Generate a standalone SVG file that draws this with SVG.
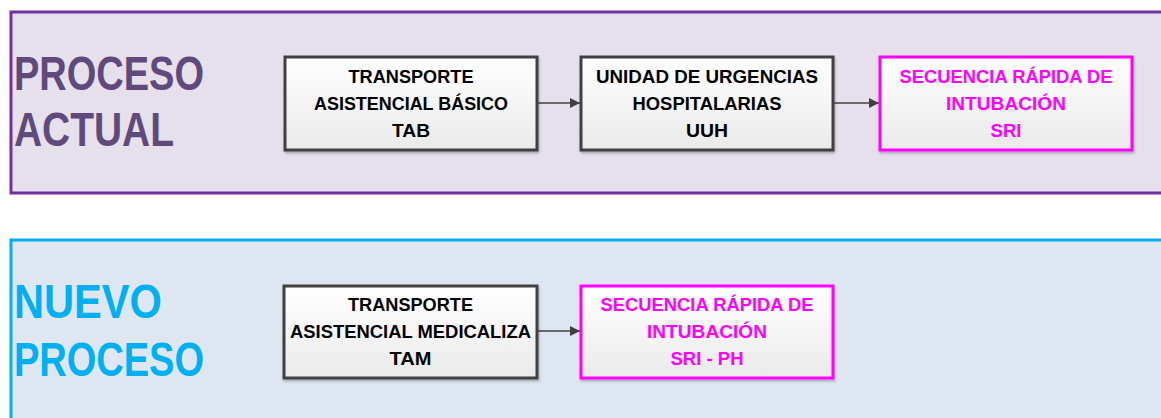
<svg xmlns="http://www.w3.org/2000/svg" width="1161" height="418" viewBox="0 0 1161 418">
<defs>
<linearGradient id="boxg" x1="0" y1="0" x2="0" y2="1">
<stop offset="0" stop-color="#FFFFFF"/>
<stop offset="1" stop-color="#EAEAEA"/>
</linearGradient>
<filter id="sh" x="-5%" y="-5%" width="110%" height="115%">
<feDropShadow dx="1" dy="2" stdDeviation="1.2" flood-color="#000" flood-opacity="0.25"/>
</filter>
<marker id="arr" viewBox="0 0 10 10" refX="10" refY="5" markerWidth="10" markerHeight="10" markerUnits="userSpaceOnUse" orient="auto">
<path d="M0,0 L10,5 L0,10 z" fill="#404040"/>
</marker>
</defs>
<style>
.title{font-family:"Liberation Sans",Arial,sans-serif;font-weight:bold;font-size:48px}
.t1{fill:#604A7B}
.t2{fill:#00B0F0}
.box{fill:url(#boxg);stroke:#404040;stroke-width:3;filter:url(#sh)}
.mbox{fill:url(#boxg);stroke:#FF00FF;stroke-width:3;filter:url(#sh)}
.lbl{font-family:"Liberation Sans",Arial,sans-serif;font-weight:bold;font-size:18.5px;text-anchor:middle;fill:#000}
.mlbl{fill:#FF00FF}
.conn{stroke:#404040;stroke-width:1.5;fill:none;marker-end:url(#arr)}
</style>
<rect width="1161" height="418" fill="#FFFFFF"/>
<g id="panel-actual">
<rect x="11" y="12" width="1160" height="181" fill="#E5E0EC" stroke="#7030A0" stroke-width="3"/>
<text class="title t1" x="14" y="90" textLength="190" lengthAdjust="spacingAndGlyphs">PROCESO</text>
<text class="title t1" x="14" y="146" textLength="160" lengthAdjust="spacingAndGlyphs">ACTUAL</text>
</g>
<g id="panel-nuevo">
<rect x="11" y="240" width="1160" height="190" fill="#DEE7F1" stroke="#00B0F0" stroke-width="3"/>
<text class="title t2" x="14" y="318" textLength="148" lengthAdjust="spacingAndGlyphs">NUEVO</text>
<text class="title t2" x="14" y="376" textLength="190" lengthAdjust="spacingAndGlyphs">PROCESO</text>
</g>
<g id="connectors">
<line class="conn" x1="537" y1="103" x2="580" y2="103"/>
<line class="conn" x1="833" y1="103" x2="879" y2="103"/>
<line class="conn" x1="537" y1="331" x2="580" y2="331"/>
</g>
<g id="node-tab">
<rect class="box" x="285" y="57" width="252" height="93"/>
<text class="lbl" x="411" y="83" textLength="125" lengthAdjust="spacingAndGlyphs">TRANSPORTE</text>
<text class="lbl" x="411" y="110" textLength="194" lengthAdjust="spacingAndGlyphs">ASISTENCIAL BÁSICO</text>
<text class="lbl" x="411" y="137" textLength="38" lengthAdjust="spacingAndGlyphs">TAB</text>
</g>
<g id="node-uuh">
<rect class="box" x="581" y="57" width="252" height="93"/>
<text class="lbl" x="707" y="83" textLength="222" lengthAdjust="spacingAndGlyphs">UNIDAD DE URGENCIAS</text>
<text class="lbl" x="707" y="110" textLength="149" lengthAdjust="spacingAndGlyphs">HOSPITALARIAS</text>
<text class="lbl" x="707" y="137" textLength="42" lengthAdjust="spacingAndGlyphs">UUH</text>
</g>
<g id="node-sri">
<rect class="mbox" x="880" y="57" width="252" height="93"/>
<text class="lbl mlbl" x="1006" y="83" textLength="213" lengthAdjust="spacingAndGlyphs">SECUENCIA RÁPIDA DE</text>
<text class="lbl mlbl" x="1006" y="110" textLength="120" lengthAdjust="spacingAndGlyphs">INTUBACIÓN</text>
<text class="lbl mlbl" x="1006" y="137" textLength="31" lengthAdjust="spacingAndGlyphs">SRI</text>
</g>
<g id="node-tam">
<rect class="box" x="284" y="286" width="253" height="92"/>
<text class="lbl" x="410.5" y="311" textLength="125" lengthAdjust="spacingAndGlyphs">TRANSPORTE</text>
<text class="lbl" x="410.5" y="338" textLength="241" lengthAdjust="spacingAndGlyphs">ASISTENCIAL MEDICALIZA</text>
<text class="lbl" x="410.5" y="365" textLength="42" lengthAdjust="spacingAndGlyphs">TAM</text>
</g>
<g id="node-sri-ph">
<rect class="mbox" x="581" y="286" width="252" height="92"/>
<text class="lbl mlbl" x="707" y="311" textLength="213" lengthAdjust="spacingAndGlyphs">SECUENCIA RÁPIDA DE</text>
<text class="lbl mlbl" x="707" y="338" textLength="120" lengthAdjust="spacingAndGlyphs">INTUBACIÓN</text>
<text class="lbl mlbl" x="707" y="365" textLength="73" lengthAdjust="spacingAndGlyphs">SRI - PH</text>
</g>
</svg>
